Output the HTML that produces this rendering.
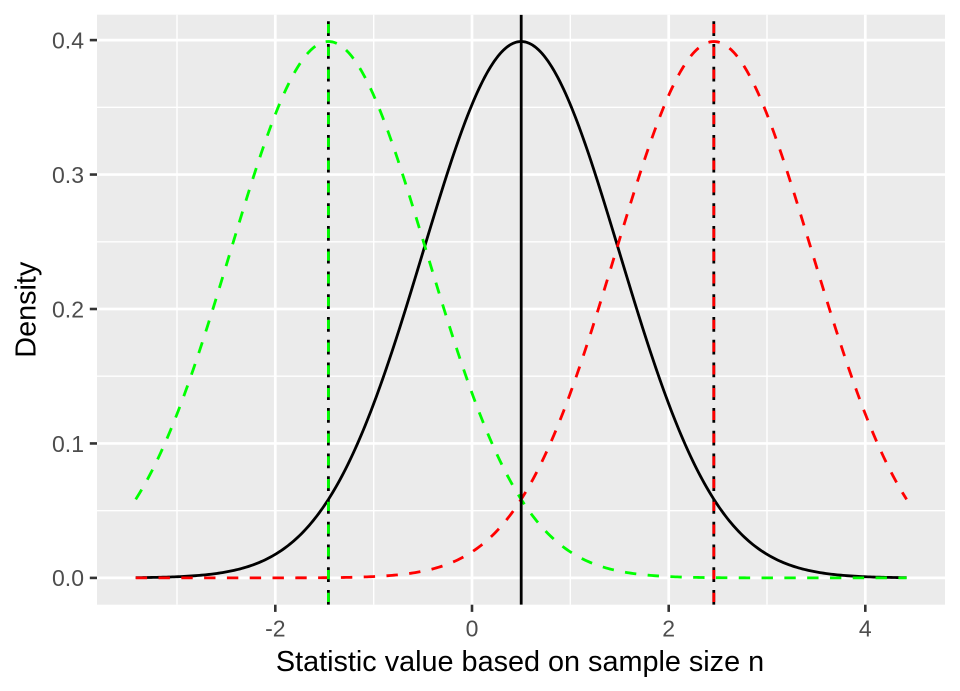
<!DOCTYPE html>
<html>
<head>
<meta charset="utf-8">
<style>
html,body{margin:0;padding:0;background:#fff;}
svg{display:block;}
text{font-family:"Liberation Sans",Arial,sans-serif;}
</style>
</head>
<body>
<svg id="c" width="960" height="691" viewBox="0 0 960 691" xmlns="http://www.w3.org/2000/svg">
<rect x="0" y="0" width="960" height="691" fill="#ffffff"/>
<defs><clipPath id="pc"><rect x="97" y="14.7" width="848" height="590"/></clipPath></defs>
<rect x="97" y="14.7" width="848" height="590" fill="#EBEBEB"/>
<g stroke="#ffffff" stroke-width="1.4" fill="none">
<line x1="97" x2="945" y1="510.7" y2="510.7"/>
<line x1="97" x2="945" y1="376.2" y2="376.2"/>
<line x1="97" x2="945" y1="241.8" y2="241.8"/>
<line x1="97" x2="945" y1="107.3" y2="107.3"/>
<line y1="14.7" y2="604.7" x1="177" x2="177"/>
<line y1="14.7" y2="604.7" x1="373.7" x2="373.7"/>
<line y1="14.7" y2="604.7" x1="570.3" x2="570.3"/>
<line y1="14.7" y2="604.7" x1="767" x2="767"/>
</g>
<g stroke="#ffffff" stroke-width="2.7" fill="none">
<line x1="97" x2="945" y1="577.9" y2="577.9"/>
<line x1="97" x2="945" y1="443.45" y2="443.45"/>
<line x1="97" x2="945" y1="309" y2="309"/>
<line x1="97" x2="945" y1="174.55" y2="174.55"/>
<line x1="97" x2="945" y1="40.1" y2="40.1"/>
<line y1="14.7" y2="604.7" x1="275.3" x2="275.3"/>
<line y1="14.7" y2="604.7" x1="472" x2="472"/>
<line y1="14.7" y2="604.7" x1="668.7" x2="668.7"/>
<line y1="14.7" y2="604.7" x1="865.3" x2="865.3"/>
</g>
<g clip-path="url(#pc)" fill="none">
<path id="pb" stroke="#000000" stroke-width="2.8" d=""/>
<path id="pg" stroke="#00FF00" stroke-width="2.8" stroke-dasharray="11.4 11.4" d=""/>
<path id="pr" stroke="#FF0000" stroke-width="2.8" stroke-dasharray="11.4 11.4" d=""/>
<line x1="521.2" x2="521.2" y1="604.7" y2="14.7" stroke="#000" stroke-width="2.8"/>
<line x1="328.4" x2="328.4" y1="604.7" y2="14.7" stroke="#000" stroke-width="2.8" stroke-dasharray="14.7 8.05"/>
<line x1="328.4" x2="328.4" y1="604.7" y2="14.7" stroke="#00FF00" stroke-width="2.8" stroke-dasharray="9.3 13.45" stroke-dashoffset="-2.7"/>
<line x1="713.8" x2="713.8" y1="604.7" y2="14.7" stroke="#000" stroke-width="2.8" stroke-dasharray="14.7 8.05"/>
<line x1="713.8" x2="713.8" y1="604.7" y2="14.7" stroke="#FF0000" stroke-width="2.8" stroke-dasharray="9.3 13.45" stroke-dashoffset="-2.7"/>
</g>
<g stroke="#333333" stroke-width="2.6">
<line x1="89.8" x2="97" y1="577.9" y2="577.9"/>
<line x1="89.8" x2="97" y1="443.45" y2="443.45"/>
<line x1="89.8" x2="97" y1="309" y2="309"/>
<line x1="89.8" x2="97" y1="174.55" y2="174.55"/>
<line x1="89.8" x2="97" y1="40.1" y2="40.1"/>
<line y1="604.7" y2="611.9" x1="275.3" x2="275.3"/>
<line y1="604.7" y2="611.9" x1="472" x2="472"/>
<line y1="604.7" y2="611.9" x1="668.7" x2="668.7"/>
<line y1="604.7" y2="611.9" x1="865.3" x2="865.3"/>
</g>
<g fill="#4D4D4D" font-size="23" text-anchor="end">
<text x="84" y="586.2">0.0</text>
<text x="84" y="451.8">0.1</text>
<text x="84" y="317.3">0.2</text>
<text x="84" y="182.9">0.3</text>
<text x="84" y="48.4">0.4</text>
</g>
<g fill="#4D4D4D" font-size="23" text-anchor="middle">
<text x="275.3" y="636.6">-2</text>
<text x="472" y="636.6">0</text>
<text x="668.7" y="636.6">2</text>
<text x="865.3" y="636.6">4</text>
</g>
<text x="520" y="671" font-size="28.8" text-anchor="middle" fill="#000">Statistic value based on sample size n</text>
<text transform="translate(35.5,309.7) rotate(-90)" font-size="28.8" text-anchor="middle" fill="#000">Density</text>
</svg>
<script>
(function(){
  function X(x){return 472+98.33*x;}
  function Y(y){return 577.9-1344.5*y;}
  function d(m){
    var s="",n=400,a=-3.42,b=4.42;
    for(var i=0;i<=n;i++){
      var x=a+(b-a)*i/n;
      var y=Math.exp(-0.5*(x-m)*(x-m))/Math.sqrt(2*Math.PI);
      s+=(i?"L":"M")+X(x).toFixed(2)+" "+Y(y).toFixed(2);
    }
    return s;
  }
  document.getElementById("pb").setAttribute("d",d(0.5));
  document.getElementById("pg").setAttribute("d",d(-1.46));
  document.getElementById("pr").setAttribute("d",d(2.46));
})();
</script>
</body>
</html>
